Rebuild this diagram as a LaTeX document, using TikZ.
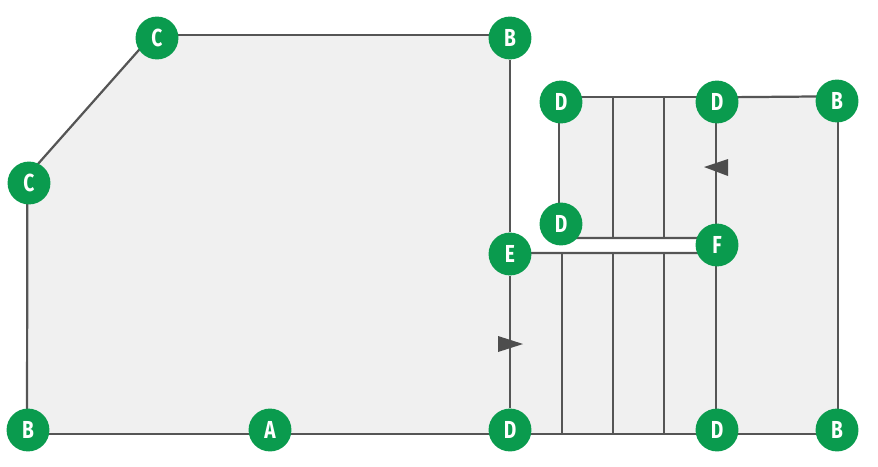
\documentclass[tikz,border=0pt]{standalone}
\usepackage{fontspec}
\setmainfont[FakeStretch=0.78]{Fira Sans}
\usetikzlibrary{backgrounds}
\definecolor{floorc}{HTML}{F0F0F0}
\definecolor{wallc}{HTML}{555555}
\definecolor{markc}{HTML}{4D4D4D}
\definecolor{nodec}{HTML}{0A9B4E}
\tikzset{
  wallline/.style={wallc, line width=1.9pt},
  pointnode/.style={circle, fill=nodec, text=white, minimum size=36.6pt,
    inner sep=0, font=\fontsize{21}{21}\selectfont\bfseries},
  flowmark/.style={fill=markc}
}

\begin{document}
\begin{tikzpicture}[x=0.03cm, y=-0.03cm]

\useasboundingbox (0,0) rectangle (878,466);

% points: name, x, y, letter
\foreach \nm/\xx/\yy/\lab in {%
  ctop/157/38/C,
  btop/510/38/B,
  cleft/29/183/C,
  bleft/28/430/B,
  amid/270/430/A,
  dbase/510/430/D,
  dbaser/717/430/D,
  bbase/837/430/B,
  eland/510/254/E,
  fland/717/245/F,
  dup/561/102/D,
  dupr/717/102/D,
  bup/837/101/B,
  dlow/561/224/D%
}{
  \node[pointnode] (\nm) at (\xx,\yy) {\lab};
}

\begin{scope}[on background layer]
  % floor areas
  \fill[floorc] (152,35) -- (510,35) -- (510,253) -- (716,253) -- (716,238)
    -- (559,238) -- (559,97) -- (838,97) -- (838,434) -- (27,434) -- (27,176)
    -- cycle;

  % outer walls
  \draw[wallline] ([yshift=7.6pt]cleft.center) -- ([yshift=7.2pt]ctop.center);
  \draw[wallline] ([yshift=2.5pt]ctop.center) -- ([yshift=2.5pt]btop.center);
  \draw[wallline] (btop) -- (eland);
  \draw[wallline] (eland) -- (dbase);
  \draw[wallline] ([xshift=-1.5pt]cleft.center) -- ([xshift=-0.8pt]bleft.center);
  \foreach \a/\b in {bleft/amid, amid/dbase, dbase/dbaser, dbaser/bbase}{
    \draw[wallline] ([yshift=-3.4pt]\a.center) -- ([yshift=-3.4pt]\b.center);
  }
  \draw[wallline] ([xshift=0.8pt]bup.center) -- ([xshift=0.8pt]bbase.center);

  % landing and upper flight
  \draw[wallline] ([yshift=4pt]dup.center) -- ([yshift=4pt]dupr.center);
  \draw[wallline] ([yshift=4pt]dupr.center) -- ([yshift=4pt]bup.center);
  \draw[wallline] ([xshift=-1.7pt]dup.center) -- ([xshift=-1.7pt]dlow.center);
  \draw[wallline] ([xshift=-0.8pt]dupr.center) -- ([xshift=-0.8pt]fland.center);
  \draw[wallline] ([xshift=-0.8pt]fland.center) -- ([xshift=-0.8pt]dbaser.center);
  \draw[wallline] ([yshift=-11.9pt]dlow.center) -- ([yshift=5.9pt]fland.center);
  \draw[wallline] ([yshift=0.8pt]eland.center) -- ([yshift=-6.8pt]fland.center);

  % stair treads
  \foreach \i/\xx in {1/613, 2/664}{
    \coordinate (uptop\i) at (\xx,97);
    \coordinate (uplow\i) at (\xx,238);
    \draw[wallline] (uptop\i) -- (uplow\i);
  }
  \foreach \i/\xx in {1/562, 2/613, 3/664}{
    \coordinate (lotop\i) at (\xx,253);
    \coordinate (lolow\i) at (\xx,434);
    \draw[wallline] (lotop\i) -- (lolow\i);
  }

  % direction marks
  \fill[flowmark] (498,336) -- (523,344) -- (498,352) -- cycle;
  \fill[flowmark] (728,159) -- (704,167) -- (728,176) -- cycle;
\end{scope}

\end{tikzpicture}
\end{document}
